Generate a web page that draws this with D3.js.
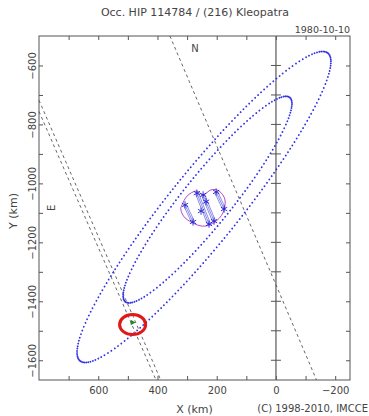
<!DOCTYPE html>
<html>
<head>
<meta charset="utf-8">
<script src="https://cdn.jsdelivr.net/npm/d3@7"></script>
<style>
  body { margin: 0; background: #fff; }
  svg { display: block; }
  text { font-family: "DejaVu Sans", sans-serif; fill: #444; }
</style>
</head>
<body>
<div id="chart"></div>
<script>
// ---- data (km) ----
// tick values
const xTickValues = [700, 600, 500, 400, 300, 200, 100, 0, -100, -200];
const xLabelValues = [600, 400, 200, 0, -200];
const yTickValues = [-600, -700, -800, -900, -1000, -1100, -1200, -1300, -1400, -1500, -1600];
const yLabelValues = [-600, -800, -1000, -1200, -1400, -1600];

// uncertainty loops: centre, semi-axes, tilt (deg, data frame)
const loopCx = [243, 231];
const loopCy = [-1080, -1055];
const loopA = [669, 444];
const loopB = [120, 83];
const loopAngle = [128.7, 128.7];

// shadow path limits (dashed), from / to
const pathFrom = [[358, -500], [800, -756], [800, -718]];
const pathTo = [[-137, -1667], [405, -1667], [389, -1667]];

// asteroid profile outline
const blobX = [317, 300, 270, 246, 219, 192, 172, 179, 206, 240, 273, 307, 321];
const blobY = [-1073, -1043, -1026, -1039, -1022, -1026, -1056, -1100, -1131, -1145, -1138, -1117, -1090];

// observed chords
const chordFrom = [[307, -1073], [267, -1033], [246, -1039], [202, -1029]];
const chordTo = [[280, -1131], [226, -1138], [209, -1128], [175, -1087]];
const extraStars = [[253, -1094], [236, -1062]];

// observer site
const siteX = 484, siteY = -1479, siteRx = 44, siteRy = 34;
const markX = 485, markY = -1472;

// ---- chart ----
const width = 369, height = 416;
const x = d3.scaleLinear().domain([800, -250]).range([39, 350]);
const y = d3.scaleLinear().domain([-500, -1667]).range([36, 380]);
const fmt = d3.format('d');

const svg = d3.select('#chart').append('svg')
  .attr('width', width)
  .attr('height', height);

// axes
function styleAxis(g) {
  g.select('.domain').remove();
  g.selectAll('.tick line').attr('stroke', '#555');
}

svg.append('g')
  .attr('transform', 'translate(0,' + y.range()[1] + ')')
  .call(d3.axisBottom(x).tickValues(xTickValues).tickSize(-4).tickSizeOuter(0).tickPadding(7)
    .tickFormat(d => xLabelValues.includes(d) ? fmt(d) : ''))
  .call(styleAxis)
  .call(g => g.selectAll('text').attr('font-size', 10).attr('fill', '#444'));

svg.append('g')
  .attr('transform', 'translate(0,' + y.range()[0] + ')')
  .call(d3.axisTop(x).tickValues(xTickValues).tickSize(-4).tickSizeOuter(0).tickFormat(''))
  .call(styleAxis);

svg.append('g')
  .attr('transform', 'translate(' + x.range()[0] + ',0)')
  .call(d3.axisLeft(y).tickValues(yTickValues).tickSize(-4).tickSizeOuter(0)
    .tickFormat(d => yLabelValues.includes(d) ? fmt(d) : ''))
  .call(styleAxis)
  .call(g => g.selectAll('text')
    .attr('x', null).attr('dy', null)
    .attr('text-anchor', 'middle')
    .attr('font-size', 10)
    .attr('fill', '#444')
    .attr('transform', 'translate(-3.5,0) rotate(-90)'));

svg.append('g')
  .attr('transform', 'translate(' + x.range()[1] + ',0)')
  .call(d3.axisRight(y).tickValues(yTickValues).tickSize(-4).tickSizeOuter(0).tickFormat(''))
  .call(styleAxis);

// frame
svg.append('rect')
  .attr('x', x.range()[0]).attr('y', y.range()[0])
  .attr('width', x.range()[1] - x.range()[0])
  .attr('height', y.range()[1] - y.range()[0])
  .attr('fill', 'none').attr('stroke', '#555');

// zero meridian with its own ticks
const zero = svg.append('g');
zero.append('line')
  .attr('x1', x(0)).attr('x2', x(0))
  .attr('y1', y.range()[0]).attr('y2', y.range()[1])
  .attr('stroke', '#666').attr('stroke-width', 1.3);
zero.selectAll('.zt').data(yTickValues).join('line')
  .attr('x1', x(0) - 5).attr('x2', x(0) + 5)
  .attr('y1', d => y(d)).attr('y2', d => y(d))
  .attr('stroke', '#555');

// dashed path limits
svg.append('g').selectAll('line').data(pathFrom).join('line')
  .attr('x1', d => x(d[0])).attr('y1', d => y(d[1]))
  .attr('x2', (d, i) => x(pathTo[i][0])).attr('y2', (d, i) => y(pathTo[i][1]))
  .attr('stroke', '#555').attr('stroke-width', 0.9)
  .attr('stroke-dasharray', '3,3');

// loops (dots get denser towards the two tips)
function dotDashes(el) {
  const total = el.getTotalLength();
  const tips = [0, total / 2, total];
  const gaps = [];
  let s = 0;
  while (s < total) {
    const d = Math.min(...tips.map(t => Math.abs(s - t)));
    const g = 1.2 + 2.9 * Math.min(1, d / 30);
    gaps.push(0, g);
    s += g;
  }
  return gaps.join(' ');
}

const loops = svg.append('g');
loopCx.forEach((cx, i) => {
  const t = loopAngle[i] * Math.PI / 180;
  const c = [x(cx), y(loopCy[i])];
  const pa = [x(cx + loopA[i] * Math.cos(t)), y(loopCy[i] + loopA[i] * Math.sin(t))];
  const pb = [x(cx - loopB[i] * Math.sin(t)), y(loopCy[i] + loopB[i] * Math.cos(t))];
  const rx = Math.hypot(pa[0] - c[0], pa[1] - c[1]);
  const ry = Math.hypot(pb[0] - c[0], pb[1] - c[1]);
  const rot = Math.atan2(pa[1] - c[1], pa[0] - c[0]) * 180 / Math.PI;
  const e = loops.append('ellipse')
    .attr('cx', c[0]).attr('cy', c[1])
    .attr('rx', rx).attr('ry', ry)
    .attr('transform', 'rotate(' + rot + ',' + c[0] + ',' + c[1] + ')')
    .attr('fill', 'none')
    .attr('stroke', '#3434e6')
    .attr('stroke-width', 1.9)
    .attr('stroke-linecap', 'round');
  e.attr('stroke-dasharray', dotDashes(e.node()));
});

// asteroid profile
svg.append('path')
  .datum(blobX.map((d, i) => [d, blobY[i]]))
  .attr('d', d3.line().x(d => x(d[0])).y(d => y(d[1])).curve(d3.curveCardinalClosed))
  .attr('fill', 'none')
  .attr('stroke', '#b548c8')
  .attr('stroke-width', 1);

// chords (drawn as thin triple strokes)
const chords = svg.append('g');
chordFrom.forEach((p, i) => {
  const a = [x(p[0]), y(p[1])];
  const b = [x(chordTo[i][0]), y(chordTo[i][1])];
  const len = Math.hypot(b[0] - a[0], b[1] - a[1]);
  const nx = -(b[1] - a[1]) / len, ny = (b[0] - a[0]) / len;
  [-1.5, 0, 1.5].forEach(o => {
    chords.append('line')
      .attr('x1', a[0] + nx * o).attr('y1', a[1] + ny * o)
      .attr('x2', b[0] + nx * o).attr('y2', b[1] + ny * o)
      .attr('stroke', '#4040d8').attr('stroke-width', 0.6);
  });
});
const starType = d3.symbolAsterisk || d3.symbolCross;
const stars = chordFrom.concat(chordTo, extraStars);
chords.selectAll('path').data(stars).join('path')
  .attr('transform', d => 'translate(' + x(d[0]) + ',' + y(d[1]) + ')')
  .attr('d', d3.symbol().type(starType).size(36))
  .attr('fill', 'none')
  .attr('stroke', '#2020d0')
  .attr('stroke-width', 0.9);

// observer site
svg.append('ellipse')
  .attr('cx', x(siteX)).attr('cy', y(siteY))
  .attr('rx', Math.abs(x(siteX + siteRx) - x(siteX)))
  .attr('ry', Math.abs(y(siteY + siteRy) - y(siteY)))
  .attr('fill', 'none')
  .attr('stroke', '#e01818')
  .attr('stroke-width', 3);
svg.append('path')
  .attr('transform', 'translate(' + x(markX) + ',' + y(markY) + ') rotate(-30)')
  .attr('d', d3.symbol().type(d3.symbolTriangle).size(14))
  .attr('fill', '#1e8a1e');

// direction labels
svg.append('text')
  .attr('x', x(273)).attr('y', y(-544))
  .attr('dy', '0.35em')
  .attr('text-anchor', 'middle')
  .attr('font-size', 10)
  .text('N');
svg.append('text')
  .attr('transform', 'translate(' + (x(758) + 3.5) + ',' + y(-1083) + ') rotate(-90)')
  .attr('text-anchor', 'middle')
  .attr('font-size', 10)
  .text('E');

// titles
svg.append('text')
  .attr('x', 195).attr('y', 15.5)
  .attr('text-anchor', 'middle')
  .attr('font-size', 11)
  .text('Occ. HIP 114784 / (216) Kleopatra');
svg.append('text')
  .attr('x', 350).attr('y', 33)
  .attr('text-anchor', 'end')
  .attr('font-size', 9.5)
  .text('1980-10-10');
svg.append('text')
  .attr('x', 194.5).attr('y', 413)
  .attr('text-anchor', 'middle')
  .attr('font-size', 11)
  .text('X (km)');
svg.append('text')
  .attr('transform', 'translate(16.5,211) rotate(-90)')
  .attr('text-anchor', 'middle')
  .attr('font-size', 11)
  .text('Y (km)');
svg.append('text')
  .attr('x', 368).attr('y', 412)
  .attr('text-anchor', 'end')
  .attr('font-size', 10)
  .text('(C) 1998-2010, IMCCE');
</script>
</body>
</html>
